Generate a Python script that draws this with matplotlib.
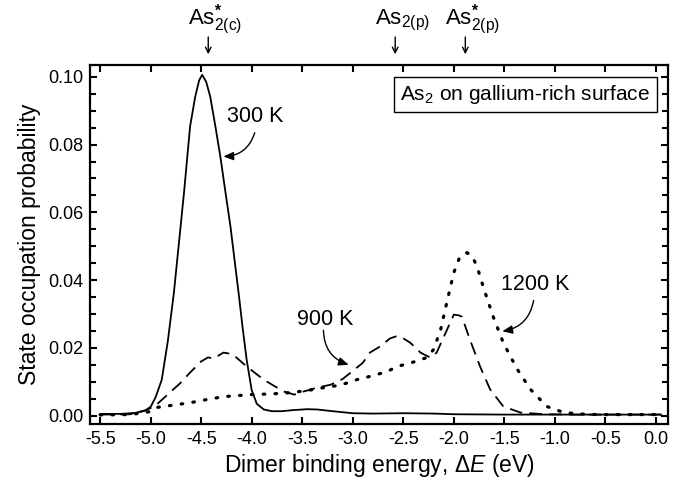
import matplotlib
matplotlib.use("Agg")
import matplotlib.pyplot as plt
from matplotlib.ticker import MultipleLocator, FormatStrFormatter

plt.rcParams['font.family'] = ['Liberation Sans', 'DejaVu Sans']
plt.rcParams['mathtext.fontset'] = 'custom'
plt.rcParams['mathtext.rm'] = 'Liberation Sans'
plt.rcParams['mathtext.it'] = 'Liberation Sans:italic'
plt.rcParams['mathtext.bf'] = 'Liberation Sans:bold'
plt.rcParams['axes.unicode_minus'] = False

# ---- data ----
x_300 = [-5.5, -5.3, -5.15, -5.05, -5.0, -4.95, -4.89, -4.83, -4.77, -4.72, -4.67, -4.61, -4.56,
         -4.52, -4.49, -4.45, -4.41, -4.36, -4.31, -4.26, -4.21, -4.17, -4.13, -4.09, -4.05, -4.0,
         -3.95, -3.88, -3.8, -3.7, -3.6, -3.45, -3.35, -3.2, -3.0, -2.8, -2.5, -2.2, -2.0, -1.5,
         -1.0, -0.5, 0.05]
y_300 = [0.0005, 0.0005, 0.0008, 0.0016, 0.0026, 0.0055, 0.0106, 0.022, 0.0363, 0.051, 0.0658, 0.0853,
         0.094, 0.099, 0.1006, 0.0985, 0.0941, 0.0855, 0.0764, 0.066, 0.0558, 0.046, 0.0363, 0.026,
         0.0165, 0.0075, 0.0035, 0.0018, 0.0013, 0.0013, 0.0016, 0.0019, 0.0018, 0.0013, 0.0007,
         0.0006, 0.0007, 0.0006, 0.0004, 0.0003, 0.0003, 0.0003, 0.0003]

x_900 = [-5.5, -5.2, -5.05, -4.95, -4.81, -4.71, -4.61, -4.5, -4.43, -4.38, -4.28, -4.2, -4.15,
         -4.05, -3.95, -3.88, -3.78, -3.68, -3.58, -3.53, -3.49, -3.45, -3.35, -3.22, -3.1, -3.02,
         -2.9, -2.83, -2.73, -2.63, -2.56, -2.5, -2.43, -2.33, -2.23, -2.17, -2.08, -2.0, -1.95,
         -1.92, -1.84, -1.74, -1.64, -1.51, -1.34, -1.1, -0.8, -0.5, 0.05]
y_900 = [0.0003, 0.0004, 0.0015, 0.003, 0.0068, 0.0095, 0.0127, 0.016, 0.0172, 0.0168, 0.0186,
         0.0182, 0.0171, 0.0145, 0.0122, 0.0106, 0.0088, 0.0071, 0.0062, 0.0066, 0.0071, 0.0074,
         0.0083, 0.0091, 0.0108, 0.0127, 0.0156, 0.0186, 0.0204, 0.0228, 0.0235, 0.0228, 0.0215,
         0.0186, 0.0171, 0.0186, 0.0245, 0.0298, 0.0296, 0.0292, 0.0224, 0.0145, 0.0077, 0.0027,
         0.0009, 0.0004, 0.0003, 0.0003, 0.0003]

x_1200 = [-5.5, -5.2, -5.0, -4.94, -4.8, -4.61, -4.45, -4.28, -4.1, -4.01, -3.8, -3.61, -3.45,
          -3.28, -3.12, -2.96, -2.8, -2.66, -2.56, -2.4, -2.27, -2.2, -2.13, -2.07, -2.0, -1.94,
          -1.87, -1.82, -1.77, -1.7, -1.61, -1.51, -1.44, -1.37, -1.24, -1.08, -0.91, -0.75,
          -0.58, -0.3, 0.05]
y_1200 = [0.0002, 0.0003, 0.0012, 0.0024, 0.003, 0.0038, 0.0047, 0.0056, 0.006, 0.0062, 0.0064,
          0.0068, 0.0074, 0.0083, 0.009, 0.0106, 0.0118, 0.013, 0.0145, 0.0158, 0.0171, 0.0195,
          0.0254, 0.0333, 0.0422, 0.0469, 0.0481, 0.0472, 0.044, 0.0372, 0.0292, 0.0215, 0.0175,
          0.0136, 0.0077, 0.0027, 0.0009, 0.0005, 0.0003, 0.0003, 0.0003]

state_labels = [r'As$^{\bf{*}}_{2(\mathrm{c})}$', r'As$_{2(\mathrm{p})}$', r'As$^{\bf{*}}_{2(\mathrm{p})}$']
state_energies = [-4.43, -2.58, -1.886]

temp_labels = ['300 K', '900 K', '1200 K']

# ---- figure ----
fig = plt.figure(figsize=(6.82, 4.83), dpi=100)
ax = fig.add_axes([0.132, 0.122, 0.8475, 0.7434])

ax.plot(x_300, y_300, color='black', lw=1.3, ls='-')
ax.plot(x_900, y_900, color='black', lw=1.3, ls=(0, (7, 4)))
ax.plot(x_1200, y_1200, color='black', lw=2.3, ls=(0, (0.5, 3.2)), dash_capstyle='round')

ax.set_xlim(-5.6, 0.12)
ax.set_ylim(-0.0025, 0.1035)

ax.xaxis.set_major_locator(MultipleLocator(0.5))
ax.xaxis.set_major_formatter(FormatStrFormatter('%.1f'))
ax.yaxis.set_major_locator(MultipleLocator(0.02))
ax.yaxis.set_minor_locator(MultipleLocator(0.005))
ax.yaxis.set_major_formatter(FormatStrFormatter('%.2f'))

ax.tick_params(which='both', direction='in', top=True, right=True, width=1.5,
               labelsize=13, pad=5)
ax.tick_params(which='major', length=5)
ax.tick_params(which='minor', length=4)
for s in ax.spines.values():
    s.set_linewidth(1.6)

ax.set_xlabel(r'Dimer binding energy, $\Delta\mathit{E}$ (eV)', fontsize=16.5, labelpad=3)
ax.set_ylabel('State occupation probability', fontsize=16.5, labelpad=5)

# box label
ax.text(-1.29, 0.0948, r'As$_2$ on gallium-rich surface', fontsize=15, ha='center', va='center',
        bbox=dict(boxstyle='square,pad=0.3', fc='white', ec='black', lw=1.0))

# temperature labels with curved arrows
arrow_kw = dict(arrowstyle='-|>,head_length=0.6,head_width=0.25', color='black', lw=1.0,
                shrinkA=0, shrinkB=0)
ax.text(-3.97, 0.0882, temp_labels[0], fontsize=15.5, ha='center', va='center')
ax.annotate('', xy=(-4.28, 0.0765), xytext=(-3.97, 0.0835),
            arrowprops=dict(connectionstyle='arc3,rad=-0.35', **arrow_kw))
ax.text(-3.27, 0.0285, temp_labels[1], fontsize=15.5, ha='center', va='center')
ax.annotate('', xy=(-3.04, 0.0150), xytext=(-3.29, 0.0252),
            arrowprops=dict(connectionstyle='arc3,rad=0.35', **arrow_kw))
ax.text(-1.19, 0.0388, temp_labels[2], fontsize=15.5, ha='center', va='center')
ax.annotate('', xy=(-1.52, 0.0249), xytext=(-1.21, 0.0340),
            arrowprops=dict(connectionstyle='arc3,rad=-0.35', **arrow_kw))

# top state markers
trans = ax.get_xaxis_transform()
for lab, e in zip(state_labels, state_energies):
    ax.annotate('', xy=(e, 1.03), xycoords=trans, xytext=(e, 1.078), textcoords=trans,
                arrowprops=dict(arrowstyle='->,head_length=0.4,head_width=0.2', color='black',
                                lw=1.0, shrinkA=0, shrinkB=0), annotation_clip=False)
    ax.text(e - 0.2, 1.125, lab, transform=trans, fontsize=16, ha='left', va='center')

fig.savefig('out.png', dpi=100)
